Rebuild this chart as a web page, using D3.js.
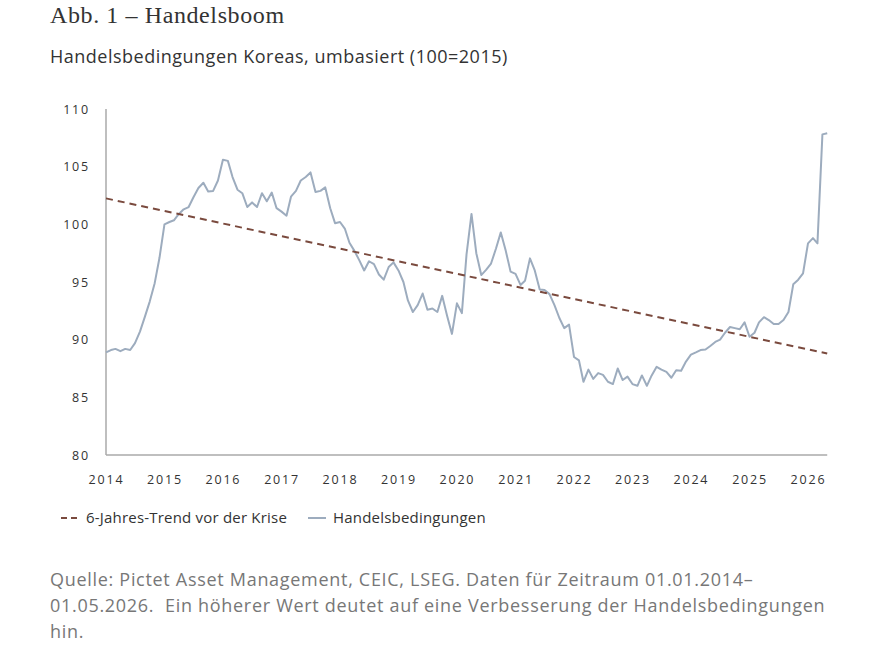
<!DOCTYPE html>
<html><head><meta charset="utf-8">
<script src="https://cdn.jsdelivr.net/npm/d3@7"></script>
<style>
html,body{margin:0;padding:0;background:#fff;}
svg{display:block;}
</style></head>
<body>
<script>
// ---- data ----
const startYear = 2014, startMonth = 0; // Jan 2014, monthly
const termsOfTrade = [
 88.9,89.1,89.2,89.0,89.2,89.1,89.7,90.7,92.0,93.3,94.9,97.1,
 100.0,100.2,100.35,100.9,101.3,101.5,102.35,103.15,103.6,102.85,102.9,103.8,
 105.6,105.5,104.1,103.0,102.7,101.5,101.9,101.5,102.7,102.0,102.75,101.4,
 101.1,100.75,102.4,102.9,103.8,104.1,104.5,102.8,102.9,103.2,101.4,100.1,
 100.2,99.6,98.4,97.7,96.9,96.0,96.8,96.55,95.65,95.2,96.3,96.7,
 96.0,95.0,93.4,92.4,93.0,94.0,92.6,92.7,92.4,93.8,92.05,90.5,
 93.15,92.3,97.4,100.9,97.5,95.6,96.05,96.6,97.9,99.3,97.7,95.9,
 95.7,94.75,95.1,97.05,96.0,94.35,94.3,93.95,93.0,91.9,91.0,91.3,
 88.5,88.2,86.35,87.4,86.6,87.1,86.95,86.35,86.15,87.5,86.5,86.8,
 86.15,86.0,86.9,86.0,86.9,87.65,87.4,87.2,86.7,87.35,87.3,88.1,
 88.7,88.9,89.1,89.15,89.45,89.8,90.0,90.6,91.1,91.0,90.9,91.5,
 90.25,90.6,91.5,91.95,91.7,91.35,91.35,91.7,92.4,94.8,95.2,95.75,
 98.35,98.8,98.35,107.8,107.9
];
const trendDates = ["2014-01-01","2026-05-01"];
const trendValues = [102.25, 88.8];
const yTicks = [80,85,90,95,100,105,110];
const xTickYears = [2014,2015,2016,2017,2018,2019,2020,2021,2022,2023,2024,2025,2026];
const legendLabels = ["6-Jahres-Trend vor der Krise","Handelsbedingungen"];

const series = termsOfTrade.map((v,i)=>({date:new Date(startYear, startMonth+i, 1), value:v}));
const trend = trendDates.map((d,i)=>({date:new Date(d+"T00:00:00"), value:trendValues[i]}));

const W=894,H=648;
const svg=d3.select("body").append("svg").attr("width",W).attr("height",H);
const sans="'Open Sans', 'Noto Sans', sans-serif";

svg.append("text").attr("x",50).attr("y",23)
  .attr("font-family","'Liberation Serif','DejaVu Serif',serif").attr("font-size",24)
  .attr("letter-spacing",0.6).attr("fill","#333").text("Abb. 1 – Handelsboom");
svg.append("text").attr("x",50).attr("y",63)
  .attr("font-family",sans).attr("font-size",18).attr("letter-spacing",0.5).attr("fill","#333")
  .text("Handelsbedingungen Koreas, umbasiert (100=2015)");

const x=d3.scaleTime().domain([new Date(2014,0,1),new Date(2026,0,1)]).range([106,808]);
const y=d3.scaleLinear().domain([80,110]).range([455,109]);
const xEnd = x(series[series.length-1].date);

// axes
const gy=svg.append("g").attr("transform","translate(106,0)")
  .call(d3.axisLeft(y).tickValues(yTicks).tickSize(0).tickPadding(16).tickFormat(d3.format("d")));
gy.select(".domain").attr("stroke","#aaa").attr("stroke-width",1.5).attr("d",`M0,${y(110)}V${y(80)}`);
gy.selectAll("text").attr("font-family",sans).attr("font-size",12.5).attr("fill","#333").attr("letter-spacing",1.8);

const gx=svg.append("g").attr("transform",`translate(0,${y(80)})`)
  .call(d3.axisBottom(x).tickValues(xTickYears.map(yy=>new Date(yy,0,1))).tickSize(0).tickPadding(20).tickFormat(d3.timeFormat("%Y")));
gx.select(".domain").attr("stroke","#aaa").attr("stroke-width",1.5).attr("d",`M106,0H${xEnd}`);
gx.selectAll("text").attr("font-family",sans).attr("font-size",12.5).attr("fill","#333").attr("letter-spacing",1.8);

const line=d3.line().x(d=>x(d.date)).y(d=>y(d.value));
svg.append("path").datum(series).attr("d",line).attr("fill","none")
  .attr("stroke","#9dacbe").attr("stroke-width",2).attr("stroke-linejoin","round");
svg.append("path").datum(trend).attr("d",line).attr("fill","none")
  .attr("stroke","#7a4a3e").attr("stroke-width",2).attr("stroke-dasharray","7,5");

// legend
const lg=svg.append("g");
lg.append("line").attr("x1",61).attr("x2",80).attr("y1",518).attr("y2",518)
  .attr("stroke","#7a4a3e").attr("stroke-width",2).attr("stroke-dasharray","6,4");
lg.append("text").attr("x",86).attr("y",523).attr("font-family",sans).attr("font-size",15).attr("letter-spacing",0.2).attr("fill","#333").text(legendLabels[0]);
lg.append("line").attr("x1",308).attr("x2",326).attr("y1",518).attr("y2",518)
  .attr("stroke","#9dacbe").attr("stroke-width",2);
lg.append("text").attr("x",333).attr("y",523).attr("font-family",sans).attr("font-size",15).attr("letter-spacing",0.2).attr("fill","#333").text(legendLabels[1]);

// footer
const foot=["Quelle: Pictet Asset Management, CEIC, LSEG. Daten für Zeitraum 01.01.2014–",
 "01.05.2026.  Ein höherer Wert deutet auf eine Verbesserung der Handelsbedingungen",
 "hin."];
svg.append("g").selectAll("text").data(foot).join("text")
  .attr("x",50).attr("y",(d,i)=>586+i*26).attr("font-family",sans).attr("font-size",18)
  .attr("letter-spacing",0.7)
  .attr("fill","#777").attr("xml:space","preserve").style("white-space","pre").text(d=>d);
</script>
</body></html>
